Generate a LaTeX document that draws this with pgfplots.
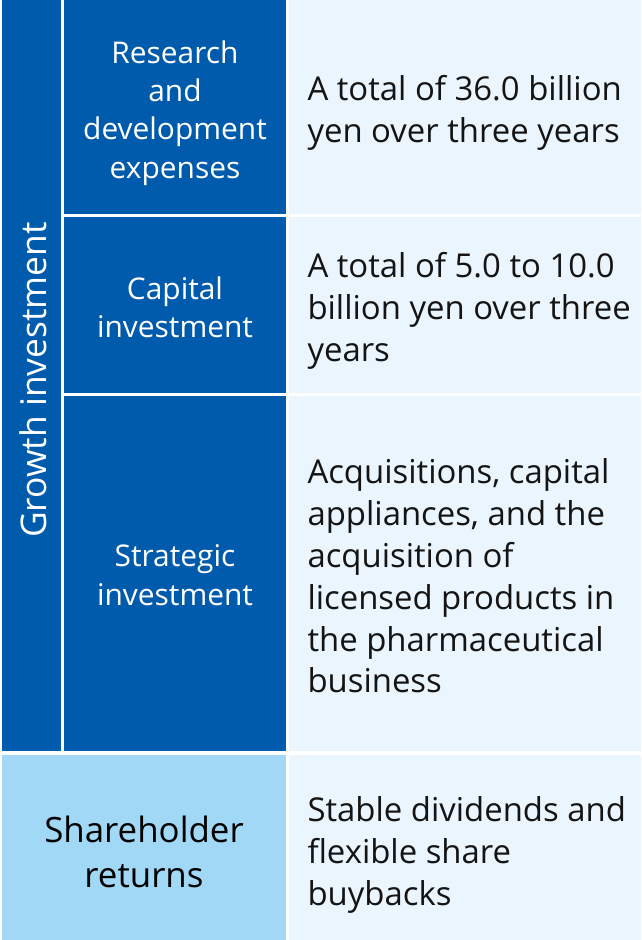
\documentclass[border=0pt]{standalone}
\usepackage{pgfplots}
\pgfplotsset{compat=1.18}
\usepackage{fontspec}
\setmainfont{Open Sans}
\definecolor{dkblue}{RGB}{0,91,172}
\definecolor{ltblue}{RGB}{160,216,245}
\definecolor{paleblue}{RGB}{234,245,254}
\definecolor{txt}{RGB}{20,20,20}
\begin{document}
\begin{tikzpicture}
\begin{axis}[
  width=641bp, height=940bp, scale only axis,
  xmin=0, xmax=641, ymin=0, ymax=940, y dir=reverse,
  hide axis, clip=false,
]
% background
\addplot[fill=white, draw=none] coordinates {(0,0) (641,0) (641,940) (0,940)} -- cycle;
% left column
\addplot[fill=dkblue, draw=none] coordinates {(2,0) (61,0) (61,751) (2,751)} -- cycle;
% second column
\addplot[fill=dkblue, draw=none] coordinates {(64,0) (286,0) (286,214) (64,214)} -- cycle;
\addplot[fill=dkblue, draw=none] coordinates {(64,217) (286,217) (286,393) (64,393)} -- cycle;
\addplot[fill=dkblue, draw=none] coordinates {(64,396) (286,396) (286,751) (64,751)} -- cycle;
% bottom left
\addplot[fill=ltblue, draw=none] coordinates {(2,755) (286,755) (286,940) (2,940)} -- cycle;
% third column
\addplot[fill=paleblue, draw=none] coordinates {(289,0) (641,0) (641,214) (289,214)} -- cycle;
\addplot[fill=paleblue, draw=none] coordinates {(289,217) (641,217) (641,393) (289,393)} -- cycle;
\addplot[fill=paleblue, draw=none] coordinates {(289,396) (641,396) (641,751) (289,751)} -- cycle;
\addplot[fill=paleblue, draw=none] coordinates {(289,755) (641,755) (641,940) (289,940)} -- cycle;

% texts
\node[rotate=90, text=white, font=\fontsize{35.5}{40}\selectfont] at (axis cs:33,380) {Growth investment};
\node[align=center, text=white, font=\fontsize{30}{38.5}\selectfont] at (axis cs:175,113) {Research\\and\\development\\expenses};
\node[align=center, text=white, font=\fontsize{30}{38.5}\selectfont] at (axis cs:175,307) {Capital\\investment};
\node[align=center, text=white, font=\fontsize{30}{38.5}\selectfont] at (axis cs:175,575) {Strategic\\investment};
\node[align=center, text=black, font=\fontsize{35}{45}\selectfont] at (axis cs:144,852) {Shareholder\\returns};

\node[anchor=west, align=left, text=txt, font=\fontsize{33}{42}\selectfont] at (axis cs:304,113) {A total of 36.0 billion\\yen over three years};
\node[anchor=west, align=left, text=txt, font=\fontsize{33}{42}\selectfont] at (axis cs:304,311) {A total of 5.0 to 10.0\\billion yen over three\\years};
\node[anchor=west, align=left, text=txt, font=\fontsize{33}{42}\selectfont] at (axis cs:304,576) {Acquisitions, capital\\appliances, and the\\acquisition of\\licensed products in\\the pharmaceutical\\business};
\node[anchor=west, align=left, text=txt, font=\fontsize{33}{42}\selectfont] at (axis cs:304,855) {Stable dividends and\\flexible share\\buybacks};
\end{axis}
\end{tikzpicture}
\end{document}
